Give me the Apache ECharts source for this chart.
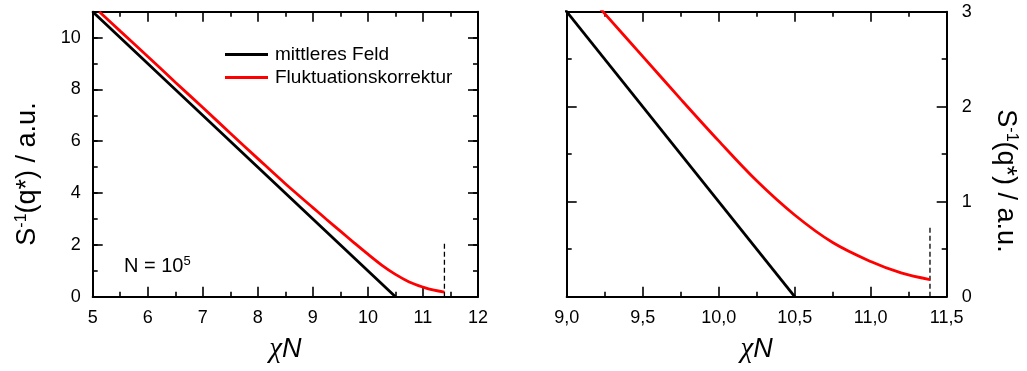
<!DOCTYPE html>
<html>
<head>
<meta charset="utf-8">
<script src="https://cdn.jsdelivr.net/npm/echarts@6/dist/echarts.min.js"></script>
<style>
  html, body { margin: 0; padding: 0; background: #fff; }
  #chart { width: 1027px; height: 371px; }
</style>
</head>
<body>
<div id="chart"></div>
<script>
// Mean-field line: S^-1(q*) vs chi N
const chiNMeanField = [5.0, 10.5];
const invSMeanField = [11.0, 0.0];

// Fluctuation-corrected curve
const chiNFluct = [5.12, 5.5, 6.0, 6.5, 7.0, 7.5, 8.0, 8.5, 9.0, 9.25, 9.5, 9.75, 10.0, 10.25, 10.5, 10.75, 11.0, 11.2, 11.39];
const invSFluct = [11.0, 10.25, 9.27, 8.28, 7.3, 6.31, 5.33, 4.36, 3.44, 2.98, 2.53, 2.08, 1.64, 1.22, 0.86, 0.57, 0.37, 0.25, 0.18];

// Spinodal marker (dashed vertical line) and its heights in each panel
const spinodalChiN = 11.39;
const spinodalTopLeft = 2.1;
const spinodalTopRight = 0.75;

// Axis ranges
const leftXRange = [5, 12];
const leftYRange = [0, 11];
const rightXRange = [9, 11.5];
const rightYRange = [0, 3];

const seriesNames = ['mittleres Feld', 'Fluktuationskorrektur'];

const zip = (xs, ys) => xs.map((x, i) => [x, ys[i]]);

const FONT = 'Liberation Sans, Arial, sans-serif';
const AX = { lineStyle: { color: '#000', width: 2 } };
const tickStyle = { lineStyle: { color: '#000', width: 1.6 } };

function xAxisBase(gridIndex, range, interval, position, showLabels, fmt) {
  return {
    type: 'value', gridIndex, position, min: range[0], max: range[1], interval,
    axisLine: { show: true, onZero: false, ...AX },
    axisTick: { show: true, inside: true, length: 10, ...tickStyle },
    minorTick: { show: true, splitNumber: 2, length: 5, ...tickStyle },
    splitLine: { show: false },
    axisLabel: { show: showLabels, color: '#000', fontSize: 18, fontFamily: FONT, margin: 12, formatter: fmt }
  };
}

const nameRich = {
  c: { fontFamily: 'Liberation Serif, serif', fontStyle: 'italic', fontSize: 29, color: '#000' },
  n: { fontFamily: FONT, fontStyle: 'italic', fontSize: 27, color: '#000' }
};

const xAxes = [
  Object.assign(xAxisBase(0, leftXRange, 1, 'bottom', true, v => String(v)), {
    name: '{c|χ}{n|N}', nameLocation: 'middle', nameGap: 38, nameTextStyle: { rich: nameRich }
  }),
  xAxisBase(0, leftXRange, 1, 'top', false),
  Object.assign(xAxisBase(1, rightXRange, 0.5, 'bottom', true, v => v.toFixed(1).replace('.', ',')), {
    name: '{c|χ}{n|N}', nameLocation: 'middle', nameGap: 38, nameTextStyle: { rich: nameRich }
  }),
  xAxisBase(1, rightXRange, 0.5, 'top', false)
];

function yAxisBase(gridIndex, range, interval, position, opts) {
  return Object.assign({
    type: 'value', gridIndex, position, min: range[0], max: range[1], interval,
    axisLine: { show: true, onZero: false, ...AX },
    axisTick: { show: true, inside: true, length: 10, ...tickStyle },
    minorTick: { show: false },
    splitLine: { show: false },
    axisLabel: { show: false }
  }, opts);
}

const yLabel = (margin, fmt) => ({ show: true, color: '#000', fontSize: 18, fontFamily: FONT, margin, formatter: fmt });
const shortTicks = { axisLine: { show: false }, axisTick: { show: true, inside: true, length: 5, ...tickStyle } };

const yAxes = [
  // left panel: long ticks every 2, short ticks every 1, on both sides
  yAxisBase(0, leftYRange, 2, 'left', { axisLabel: yLabel(12, v => (v > 10 ? '' : String(v))) }),
  yAxisBase(0, leftYRange, 1, 'left', shortTicks),
  yAxisBase(0, leftYRange, 2, 'right', {}),
  yAxisBase(0, leftYRange, 1, 'right', shortTicks),
  // right panel
  yAxisBase(1, rightYRange, 1, 'left', { minorTick: { show: true, splitNumber: 2, length: 5, ...tickStyle } }),
  yAxisBase(1, rightYRange, 1, 'right', { minorTick: { show: true, splitNumber: 2, length: 5, ...tickStyle }, axisLabel: yLabel(15, v => String(v)) })
];

const lineSeries = (name, data, color, xIdx, yIdx) => ({
  name, type: 'line', data, xAxisIndex: xIdx, yAxisIndex: yIdx,
  showSymbol: false, symbol: 'none', smooth: 0.35, clip: true,
  lineStyle: { color, width: 2.8 }, itemStyle: { color }, silent: true, z: 3
});

const dashSeries = (top, xIdx, yIdx) => ({
  type: 'line', data: [[spinodalChiN, 0], [spinodalChiN, top]], xAxisIndex: xIdx, yAxisIndex: yIdx,
  showSymbol: false, symbol: 'none', silent: true, z: 2, clip: false,
  lineStyle: { color: '#000', width: 1.3, type: [5, 3] }
});

const meanData = zip(chiNMeanField, invSMeanField);
const fluctData = zip(chiNFluct, invSFluct);

const supRich = {
  s: { fontSize: 27, fontFamily: FONT, color: '#000' },
  sup: { fontSize: 16, fontFamily: FONT, color: '#000', padding: [0, 0, 12, 0] }
};

const option = {
  backgroundColor: '#fff',
  animation: false,
  grid: [
    { left: 92.7, top: 11.7, width: 385.3, height: 285 },
    { left: 566.7, top: 11.7, width: 380, height: 285 }
  ],
  xAxis: xAxes,
  yAxis: yAxes,
  legend: {
    orient: 'vertical', left: 220, top: 40, itemWidth: 43, itemHeight: 3, itemGap: 4,
    icon: 'rect', selectedMode: false,
    textStyle: { fontSize: 19, fontFamily: FONT, color: '#000', padding: [0, 0, 0, 2] },
    data: seriesNames
  },
  series: [
    lineSeries(seriesNames[0], meanData, '#000000', 0, 0),
    lineSeries(seriesNames[1], fluctData, '#ff0000', 0, 0),
    dashSeries(spinodalTopLeft, 0, 0),
    lineSeries(seriesNames[0], meanData, '#000000', 2, 4),
    lineSeries(seriesNames[1], fluctData, '#ff0000', 2, 4),
    dashSeries(spinodalTopRight, 2, 4)
  ],
  graphic: [
    {
      type: 'text', x: 28, y: 174, rotation: Math.PI / 2,
      style: { text: '{s|S}{sup|-1}{s|(q*) / a.u.}', rich: supRich, align: 'center', verticalAlign: 'middle' }
    },
    {
      type: 'text', x: 1005, y: 181, rotation: -Math.PI / 2,
      style: { text: '{s|S}{sup|-1}{s|(q*) / a.u.}', rich: supRich, align: 'center', verticalAlign: 'middle' }
    },
    {
      type: 'text', x: 124, y: 266,
      style: {
        text: '{t|N = 10}{p|5}', align: 'left', verticalAlign: 'middle',
        rich: {
          t: { fontSize: 20, fontFamily: FONT, color: '#000' },
          p: { fontSize: 13, fontFamily: FONT, color: '#000', padding: [0, 0, 10, 0] }
        }
      }
    }
  ]
};

const chart = echarts.init(document.getElementById('chart'), null, { renderer: 'canvas' });
chart.setOption(option);
</script>
</body>
</html>
